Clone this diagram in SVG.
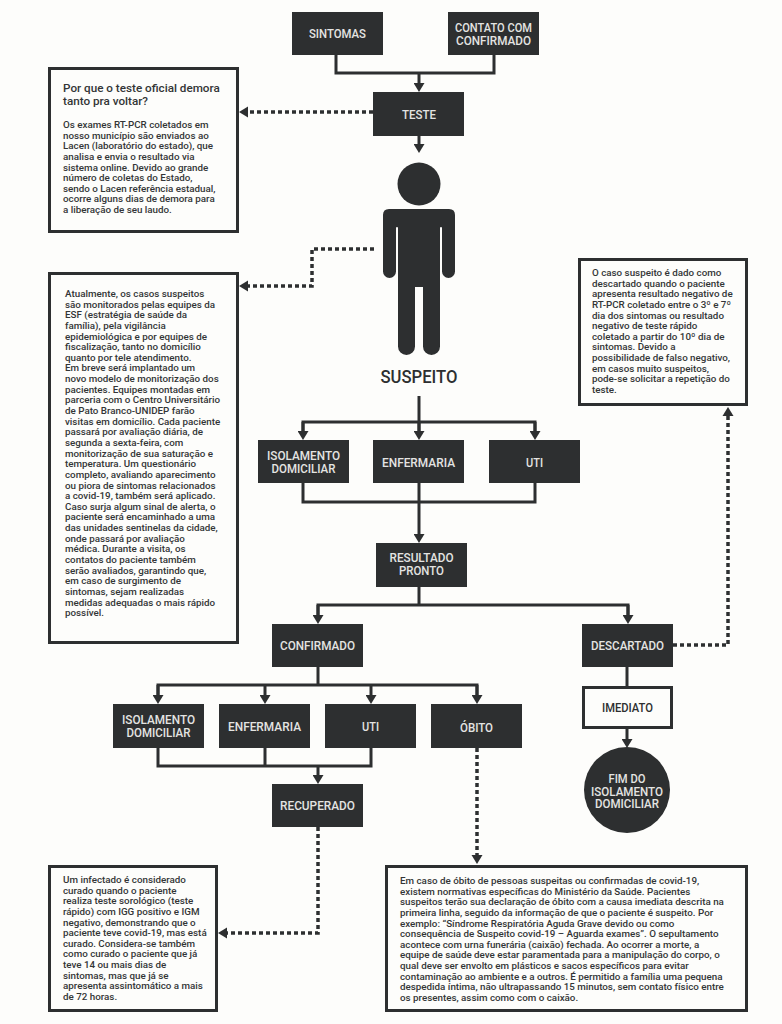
<svg xmlns="http://www.w3.org/2000/svg" width="782" height="1024" viewBox="0 0 782 1024">
<style>
.bg{fill:#fdfdfb}
.n{fill:#2d2f30}
.b{fill:#fdfdfb;stroke:#2d2f30;stroke-width:3}
.l{font-family:"Roboto","Liberation Sans",sans-serif;font-size:13.5px;font-weight:500;fill:#e4e4e2;text-anchor:middle}
.d{fill:#2d2f30}
.t{font-family:"Roboto","Liberation Sans",sans-serif;font-size:9.8px;font-weight:500;fill:#333536}
.h{font-size:11.7px;font-weight:500}
.c{fill:none;stroke:#2d2f30;stroke-width:3}
.a{marker-end:url(#arr)}
.p{fill:none;stroke:#2d2f30;stroke-width:3.500;stroke-dasharray:4 3}
</style>
<defs>
<marker id="arr" markerUnits="userSpaceOnUse" markerWidth="10" markerHeight="11" refX="0" refY="5.5" orient="auto"><path d="M0,0L9,5.5L0,11Z" fill="#2d2f30"/></marker>
</defs>
<rect class="bg" width="782" height="1024"/>
<g id="connectors">
<path class="c" d="M336,55V73H494V55"/>
<path class="c a" d="M419,73V83"/>
<path class="c a" d="M419,136V144"/>
<path class="c" d="M419,396V431"/>
<path class="c" d="M303,431V422H535V431"/>
<path class="c a" d="M303,422V431"/>
<path class="c a" d="M419,422V431"/>
<path class="c a" d="M535,422V431"/>
<path class="c" d="M303,483V502H535V483M419,483V502"/>
<path class="c a" d="M419,502V534"/>
<path class="c" d="M419,587V605"/>
<path class="c" d="M318,615V605H628V615"/>
<path class="c a" d="M318,605V615"/>
<path class="c a" d="M628,605V615"/>
<path class="c" d="M318,667V685"/>
<path class="c" d="M158,695V685H477V695"/>
<path class="c a" d="M158,685V695"/>
<path class="c a" d="M265,685V695"/>
<path class="c a" d="M371,685V695"/>
<path class="c a" d="M477,685V695"/>
<path class="c" d="M158,748V766H371V748M265,748V766"/>
<path class="c a" d="M318,766V775"/>
<path class="c" d="M627,667V686"/>
<path class="c a" d="M627,729V739"/>
<path class="p" d="M373,112H248"/><path class="d" d="M239,112L248,106.500V117.500Z"/>
<path class="p" d="M374,249H312V286H248"/><path class="d" d="M239,286L248,280.500V291.500Z"/>
<path class="p" d="M673,645H728V416"/><path class="d" d="M728,407L722.500,416H733.500Z"/>
<path class="p" d="M477,748V855"/><path class="d" d="M477,864L471.500,855H482.500Z"/>
<path class="p" d="M318,827V933H227"/><path class="d" d="M218,933L227,927.500V938.500Z"/>
</g>
<g id="n-sintomas"><rect class="n" x="292" y="12" width="91" height="43"/><text class="l" x="337.500" y="38" textLength="57" lengthAdjust="spacingAndGlyphs">SINTOMAS</text></g>
<g id="n-contato"><rect class="n" x="448" y="12" width="91" height="43"/><text class="l" x="493.500" y="32" textLength="77" lengthAdjust="spacingAndGlyphs">CONTATO COM</text><text class="l" x="493.500" y="45" textLength="75" lengthAdjust="spacingAndGlyphs">CONFIRMADO</text></g>
<g id="n-teste"><rect class="n" x="373" y="92" width="91" height="44"/><text class="l" x="419" y="119" textLength="34" lengthAdjust="spacingAndGlyphs">TESTE</text></g>
<g id="n-suspeito"><circle class="n" cx="419" cy="184" r="21.500"/><path class="n" d="M389,209H449Q455,209 455,215V271.500A6.500,6.500 0 0 1 442,271.500V228Q442,227 441,227Q440,227 440,228V346.500A8.500,8.500 0 0 1 423,346.500V287H415V346.500A8.500,8.500 0 0 1 398,346.500V228Q398,227 397,227Q396,227 396,228V271.500A6.500,6.500 0 0 1 383,271.500V215Q383,209 389,209Z"/><text x="419" y="383" text-anchor="middle" font-family="Roboto,'Liberation Sans',sans-serif" font-size="18" font-weight="500" fill="#2d2f30" textLength="77" lengthAdjust="spacingAndGlyphs">SUSPEITO</text></g>
<g id="n-iso1"><rect class="n" x="258" y="440" width="91" height="43"/><text class="l" x="303.500" y="460" textLength="73" lengthAdjust="spacingAndGlyphs">ISOLAMENTO</text><text class="l" x="303.500" y="473" textLength="64" lengthAdjust="spacingAndGlyphs">DOMICILIAR</text></g>
<g id="n-enf1"><rect class="n" x="373" y="440" width="91" height="43"/><text class="l" x="418.500" y="467" textLength="73" lengthAdjust="spacingAndGlyphs">ENFERMARIA</text></g>
<g id="n-uti1"><rect class="n" x="489" y="440" width="91" height="43"/><text class="l" x="534.500" y="467" textLength="17" lengthAdjust="spacingAndGlyphs">UTI</text></g>
<g id="n-resultado"><rect class="n" x="376" y="543" width="91" height="44"/><text class="l" x="421.500" y="562" textLength="64" lengthAdjust="spacingAndGlyphs">RESULTADO</text><text class="l" x="421.500" y="575" textLength="45" lengthAdjust="spacingAndGlyphs">PRONTO</text></g>
<g id="n-confirmado"><rect class="n" x="272" y="624" width="91" height="43"/><text class="l" x="317.500" y="650" textLength="75" lengthAdjust="spacingAndGlyphs">CONFIRMADO</text></g>
<g id="n-descartado"><rect class="n" x="582" y="624" width="91" height="43"/><text class="l" x="627.500" y="650" textLength="73" lengthAdjust="spacingAndGlyphs">DESCARTADO</text></g>
<g id="n-imediato"><rect class="b" x="583.500" y="687.500" width="88" height="40"/><text class="l" style="fill:#2d2f30" x="627.500" y="712" textLength="51" lengthAdjust="spacingAndGlyphs">IMEDIATO</text></g>
<g id="n-fim"><circle class="n" cx="627" cy="790" r="43"/><text class="l" x="627" y="783" textLength="37" lengthAdjust="spacingAndGlyphs">FIM DO</text><text class="l" x="627" y="795.500" textLength="72" lengthAdjust="spacingAndGlyphs">ISOLAMENTO</text><text class="l" x="627" y="808" textLength="64" lengthAdjust="spacingAndGlyphs">DOMICILIAR</text></g>
<g id="n-iso2"><rect class="n" x="113" y="704" width="91" height="44"/><text class="l" x="158.500" y="724" textLength="73" lengthAdjust="spacingAndGlyphs">ISOLAMENTO</text><text class="l" x="158.500" y="737" textLength="64" lengthAdjust="spacingAndGlyphs">DOMICILIAR</text></g>
<g id="n-enf2"><rect class="n" x="219" y="704" width="91" height="44"/><text class="l" x="264.500" y="731" textLength="73" lengthAdjust="spacingAndGlyphs">ENFERMARIA</text></g>
<g id="n-uti2"><rect class="n" x="325" y="704" width="91" height="44"/><text class="l" x="370.500" y="731" textLength="17" lengthAdjust="spacingAndGlyphs">UTI</text></g>
<g id="n-obito"><rect class="n" x="431" y="704" width="91" height="44"/><text class="l" x="476.500" y="732" textLength="33" lengthAdjust="spacingAndGlyphs">ÓBITO</text></g>
<g id="n-recuperado"><rect class="n" x="272" y="784" width="91" height="43"/><text class="l" x="317.500" y="810" textLength="75" lengthAdjust="spacingAndGlyphs">RECUPERADO</text></g>
<g id="box-teste"><rect class="b" x="49.500" y="68.500" width="188" height="163"/>
<text class="t h" x="63" y="92">Por que o teste oficial demora</text><text class="t h" x="63" y="105">tanto pra voltar?</text>
<text class="t"><tspan x="63" y="128">Os exames RT-PCR coletados em</tspan><tspan x="63" dy="10.640">nosso município são enviados ao</tspan><tspan x="63" dy="10.640">Lacen (laboratório do estado), que</tspan><tspan x="63" dy="10.640">analisa e envia o resultado via</tspan><tspan x="63" dy="10.640">sistema online. Devido ao grande</tspan><tspan x="63" dy="10.640">número de coletas do Estado,</tspan><tspan x="63" dy="10.640">sendo o Lacen referência estadual,</tspan><tspan x="63" dy="10.640">ocorre alguns dias de demora para</tspan><tspan x="63" dy="10.640">a liberação de seu laudo.</tspan></text></g>
<g id="box-monitor"><rect class="b" x="49.500" y="273.500" width="188" height="369"/>
<text class="t"><tspan x="65" y="297">Atualmente, os casos suspeitos</tspan><tspan x="65" dy="10.640">são monitorados pelas equipes da</tspan><tspan x="65" dy="10.640">ESF (estratégia de saúde da</tspan><tspan x="65" dy="10.640">família), pela vigilância</tspan><tspan x="65" dy="10.640">epidemiológica e por equipes de</tspan><tspan x="65" dy="10.640">fiscalização, tanto no domicílio</tspan><tspan x="65" dy="10.640">quanto por tele atendimento.</tspan><tspan x="65" dy="10.640">Em breve será implantado um</tspan><tspan x="65" dy="10.640">novo modelo de monitorização dos</tspan><tspan x="65" dy="10.640">pacientes. Equipes montadas em</tspan><tspan x="65" dy="10.640">parceria com o Centro Universitário</tspan><tspan x="65" dy="10.640">de Pato Branco-UNIDEP farão</tspan><tspan x="65" dy="10.640">visitas em domicílio. Cada paciente</tspan><tspan x="65" dy="10.640">passará por avaliação diária, de</tspan><tspan x="65" dy="10.640">segunda a sexta-feira, com</tspan><tspan x="65" dy="10.640">monitorização de sua saturação e</tspan><tspan x="65" dy="10.640">temperatura. Um questionário</tspan><tspan x="65" dy="10.640">completo, avaliando aparecimento</tspan><tspan x="65" dy="10.640">ou piora de sintomas relacionados</tspan><tspan x="65" dy="10.640">a covid-19, também será aplicado.</tspan><tspan x="65" dy="10.640">Caso surja algum sinal de alerta, o</tspan><tspan x="65" dy="10.640">paciente será encaminhado a uma</tspan><tspan x="65" dy="10.640">das unidades sentinelas da cidade,</tspan><tspan x="65" dy="10.640">onde passará por avaliação</tspan><tspan x="65" dy="10.640">médica. Durante a visita, os</tspan><tspan x="65" dy="10.640">contatos do paciente também</tspan><tspan x="65" dy="10.640">serão avaliados, garantindo que,</tspan><tspan x="65" dy="10.640">em caso de surgimento de</tspan><tspan x="65" dy="10.640">sintomas, sejam realizadas</tspan><tspan x="65" dy="10.640">medidas adequadas o mais rápido</tspan><tspan x="65" dy="10.640">possível.</tspan></text></g>
<g id="box-descartado"><rect class="b" x="579.500" y="259.500" width="167" height="145"/>
<text class="t"><tspan x="592" y="276">O caso suspeito é dado como</tspan><tspan x="592" dy="10.640">descartado quando o paciente</tspan><tspan x="592" dy="10.640">apresenta resultado negativo de</tspan><tspan x="592" dy="10.640">RT-PCR coletado entre o 3º e 7º</tspan><tspan x="592" dy="10.640">dia dos sintomas ou resultado</tspan><tspan x="592" dy="10.640">negativo de teste rápido</tspan><tspan x="592" dy="10.640">coletado a partir do 10º dia de</tspan><tspan x="592" dy="10.640">sintomas. Devido a</tspan><tspan x="592" dy="10.640">possibilidade de falso negativo,</tspan><tspan x="592" dy="10.640">em casos muito suspeitos,</tspan><tspan x="592" dy="10.640">pode-se solicitar a repetição do</tspan><tspan x="592" dy="10.640">teste.</tspan></text></g>
<g id="box-curado"><rect class="b" x="49.500" y="866.500" width="167" height="144"/>
<text class="t"><tspan x="63" y="883">Um infectado é considerado</tspan><tspan x="63" dy="10.640">curado quando o paciente</tspan><tspan x="63" dy="10.640">realiza teste sorológico (teste</tspan><tspan x="63" dy="10.640">rápido) com IGG positivo e IGM</tspan><tspan x="63" dy="10.640">negativo, demonstrando que o</tspan><tspan x="63" dy="10.640">paciente teve covid-19, mas está</tspan><tspan x="63" dy="10.640">curado. Considera-se também</tspan><tspan x="63" dy="10.640">como curado o paciente que já</tspan><tspan x="63" dy="10.640">teve 14 ou mais dias de</tspan><tspan x="63" dy="10.640">sintomas, mas que já se</tspan><tspan x="63" dy="10.640">apresenta assintomático a mais</tspan><tspan x="63" dy="10.640">de 72 horas.</tspan></text></g>
<g id="box-obito"><rect class="b" x="386.500" y="866.500" width="360" height="144"/>
<text class="t"><tspan x="400" y="884">Em caso de óbito de pessoas suspeitas ou confirmadas de covid-19,</tspan><tspan x="400" dy="10.640">existem normativas específicas do Ministério da Saúde. Pacientes</tspan><tspan x="400" dy="10.640">suspeitos terão sua declaração de óbito com a causa imediata descrita na</tspan><tspan x="400" dy="10.640">primeira linha, seguido da informação de que o paciente é suspeito. Por</tspan><tspan x="400" dy="10.640">exemplo: “Síndrome Respiratória Aguda Grave devido ou como</tspan><tspan x="400" dy="10.640">consequência de Suspeito covid-19 – Aguarda exames”. O sepultamento</tspan><tspan x="400" dy="10.640">acontece com urna funerária (caixão) fechada. Ao ocorrer a morte, a</tspan><tspan x="400" dy="10.640">equipe de saúde deve estar paramentada para a manipulação do corpo, o</tspan><tspan x="400" dy="10.640">qual deve ser envolto em plásticos e sacos específicos para evitar</tspan><tspan x="400" dy="10.640">contaminação ao ambiente e a outros. É permitido a família uma pequena</tspan><tspan x="400" dy="10.640">despedida íntima, não ultrapassando 15 minutos, sem contato físico entre</tspan><tspan x="400" dy="10.640">os presentes, assim como com o caixão.</tspan></text></g>
</svg>
